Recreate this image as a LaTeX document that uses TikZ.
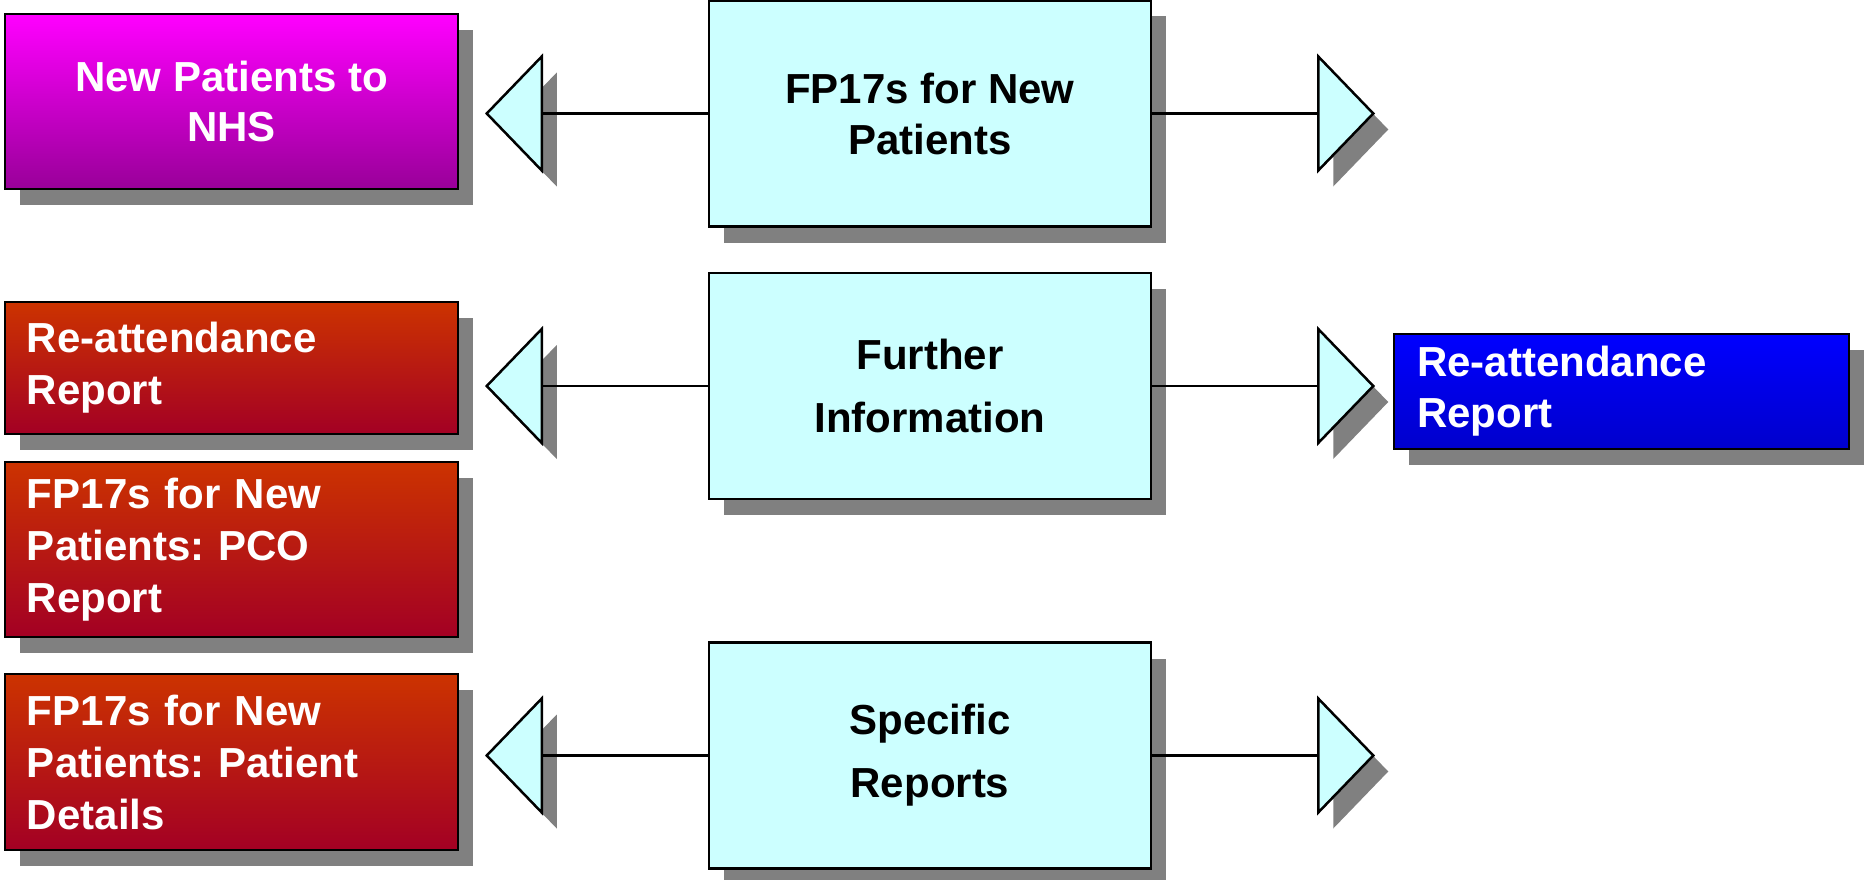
\documentclass[tikz,border=0pt]{standalone}
\usepackage{fontspec}
\setmainfont{Liberation Sans}
\frenchspacing
\usetikzlibrary{shadows}

\definecolor{hubcyan}{HTML}{CCFFFF}
\definecolor{shadowgray}{HTML}{808080}
\definecolor{magtop}{HTML}{FF00FF}
\definecolor{magbot}{HTML}{990099}
\definecolor{redtop}{HTML}{CC3300}
\definecolor{redbot}{HTML}{A30024}
\definecolor{bluetop}{HTML}{0000FF}
\definecolor{bluebot}{HTML}{0000CC}

\tikzset{
  panel/.style={draw=black, line width=2.5pt, inner sep=0pt,
    drop shadow={shadow xshift=15pt, shadow yshift=-16pt, fill=shadowgray, opacity=1}},
  hub/.style={panel, fill=hubcyan, minimum width=442pt, minimum height=226pt,
    align=center, font=\bfseries\fontsize{42}{63}\selectfont},
  target/.style={panel, text=white, inner xsep=22pt, text width=409pt, align=left,
    top color=redtop, bottom color=redbot, font=\bfseries\fontsize{42}{52}\selectfont},
  link/.style={line width=2.5pt}
}

\begin{document}
\begin{tikzpicture}[x=1pt, y=-1pt]
    \useasboundingbox (0,0) rectangle (1864,880);

    % triangle pointer with its shadow: base point, length (negative points left)
    \def\pointer#1#2{
        \begin{scope}[shift={(#1)}]
            \fill[shadowgray] (15,-41) -- (15,73) -- (#2+15,16) -- cycle;
            \filldraw[fill=hubcyan, line width=2.5pt, line join=miter] (0,-57) -- (0,57) -- (#2,0) -- cycle;
        \end{scope}
    }

    % Middle column
    \node[hub, font=\bfseries\fontsize{42}{51}\selectfont] (fp17) at (930,113.5) {FP17s for New\\Patients};
    \node[hub] (further) at (930,386) {Further\\Information};
    \node[hub] (specific) at (930,755.5) {Specific\\Reports};

    % Report boxes
    \node[panel, text=white, minimum width=453pt, minimum height=175pt, align=center,
        top color=magtop, bottom color=magbot, font=\bfseries\fontsize{42}{50}\selectfont]
        (newpat) at (231.5,101.5) {New Patients to\\NHS};
    \node[target, minimum height=132pt] (reattL) at (231.5,368) {Re-attendance\\Report};
    \node[target, minimum height=175pt] (pco) at (231.5,549.5) {FP17s for New\\Patients: PCO\\Report};
    \node[target, minimum height=176pt] (details) at (231.5,762) {FP17s for New\\Patients: Patient\\Details};
    \node[target, minimum height=115pt, inner xsep=23pt, top color=bluetop, bottom color=bluebot,
        font=\bfseries\fontsize{42}{51}\selectfont] (reattR) at (1621.5,391.5) {Re-attendance\\Report};

    % Pointers and links
    \foreach \hubname/\row in {fp17/1, further/2, specific/3} {
        \coordinate (left\row) at ([xshift=-166pt]\hubname.west);
        \coordinate (right\row) at ([xshift=166pt]\hubname.east);
        \pointer{left\row}{-55}
        \pointer{right\row}{55}
        \draw[link] (\hubname.west) -- (left\row);
        \draw[link] (\hubname.east) -- (right\row);
    }
\end{tikzpicture}
\end{document}
